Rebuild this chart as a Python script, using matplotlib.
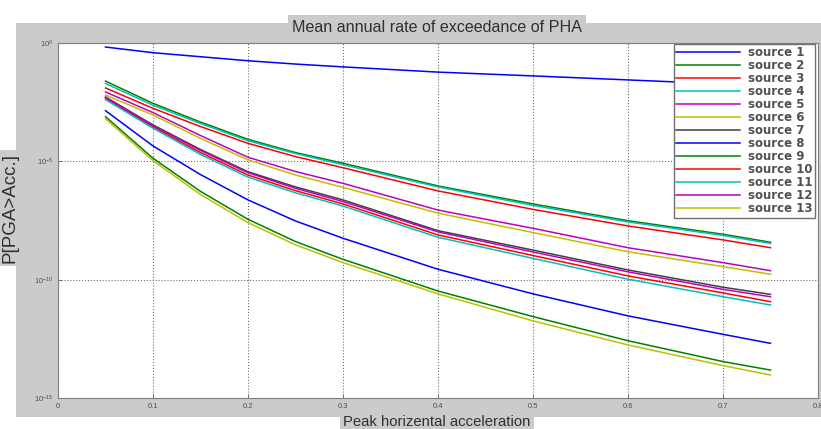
import matplotlib
matplotlib.use("Agg")
import matplotlib.pyplot as plt
from matplotlib.patches import Rectangle
import numpy as np

plt.rcParams['font.family'] = ['Liberation Sans', 'DejaVu Sans']

# x values (PGA, g)
pga = [0.05, 0.1, 0.15, 0.2, 0.25, 0.3, 0.4, 0.5, 0.6, 0.7, 0.75]

# log10 of the exceedance rate
src1 = [-0.17, -0.41, -0.58, -0.75, -0.89, -1.01, -1.23, -1.39, -1.56, -1.73, -1.82]
src2 = [-1.61, -2.55, -3.34, -4.07, -4.63, -5.08, -6.04, -6.80, -7.51, -8.08, -8.42]
src3 = [-1.90, -2.76, -3.53, -4.24, -4.80, -5.27, -6.25, -7.03, -7.73, -8.32, -8.65]
src4 = [-1.71, -2.63, -3.40, -4.13, -4.67, -5.14, -6.08, -6.86, -7.56, -8.13, -8.47]
src5 = [-2.07, -2.94, -3.91, -4.83, -5.43, -5.93, -7.06, -7.83, -8.65, -9.28, -9.62]
src6 = [-2.20, -3.04, -4.03, -4.94, -5.58, -6.10, -7.19, -8.01, -8.82, -9.45, -9.77]
src7 = [-2.28, -3.46, -4.50, -5.44, -6.08, -6.63, -7.93, -8.75, -9.59, -10.32, -10.62]
src8 = [-2.86, -4.35, -5.56, -6.63, -7.52, -8.25, -9.56, -10.60, -11.53, -12.31, -12.69]
src9 = [-3.11, -4.87, -6.27, -7.45, -8.39, -9.14, -10.48, -11.56, -12.58, -13.46, -13.82]
src10 = [-2.34, -3.55, -4.63, -5.58, -6.24, -6.80, -8.11, -8.98, -9.84, -10.56, -10.93]
src11 = [-2.39, -3.60, -4.71, -5.67, -6.33, -6.89, -8.21, -9.10, -9.98, -10.72, -11.07]
src12 = [-2.30, -3.50, -4.54, -5.48, -6.14, -6.70, -7.98, -8.83, -9.67, -10.41, -10.72]
src13 = [-3.20, -4.97, -6.40, -7.59, -8.53, -9.28, -10.60, -11.74, -12.76, -13.63, -14.03]

sources = [src1, src2, src3, src4, src5, src6, src7, src8, src9, src10, src11, src12, src13]
labels = ['source %d' % (i + 1) for i in range(len(sources))]

# old matlab colour order
colors = ['#0000ff', '#008000', '#ff0000', '#00bfbf', '#bf00bf', '#bfbf00', '#404040']

xticks = [0, 0.1, 0.2, 0.3, 0.4, 0.5, 0.6, 0.7, 0.8]
yticks = [1e0, 1e-5, 1e-10, 1e-15]

W, H = 821, 429
gray = '#cbcbcb'

fig = plt.figure(figsize=(W / 100, H / 100), dpi=100, facecolor='white')
fig.patches.append(Rectangle((16 / W, 1 - 417 / H), 1, (417 - 23) / H,
                             transform=fig.transFigure, facecolor=gray,
                             edgecolor='none', zorder=-5))

ax = fig.add_axes([58 / W, 1 - 398 / H, (818 - 58) / W, (398 - 43) / H])
ax.set_zorder(2)
for i, vals in enumerate(sources):
    ax.semilogy(pga, 10.0 ** np.array(vals), color=colors[i % len(colors)],
                lw=1.1, label=labels[i])

ax.set_xlim(0, 0.8)
ax.set_ylim(1e-15, 1e0)
ax.set_xticks(xticks)
ax.set_xticklabels(['0' if t == 0 else '%g' % t for t in xticks])
ax.set_yticks(yticks)
ax.yaxis.set_minor_locator(matplotlib.ticker.NullLocator())
ax.tick_params(direction='in', length=3, width=0.6, labelsize=5.5,
               colors='#606060', labelcolor='#505050')
ax.grid(True, which='major', linestyle=':', color='#707070', lw=0.8)
for s in ax.spines.values():
    s.set_color('#808080')
    s.set_linewidth(0.8)

leg = ax.legend(loc='upper right', bbox_to_anchor=(815 / W, 1 - 44 / H),
                bbox_transform=fig.transFigure, borderaxespad=0,
                prop={'family': 'DejaVu Sans', 'weight': 'bold', 'size': 8.5},
                handlelength=5.4, labelspacing=0.0,
                fancybox=False, framealpha=1, edgecolor='#707070',
                borderpad=0.2, handletextpad=0.7)
for t in leg.get_texts():
    t.set_color('#505050')

fig.text(437 / W, 1 - 27 / H, 'Mean annual rate of exceedance of PHA',
         ha='center', va='center', fontsize=11.6, color='#303030',
         bbox=dict(facecolor=gray, edgecolor='none', pad=3), zorder=3)
fig.text(437 / W, 1 - 422 / H, 'Peak horizental acceleration',
         ha='center', va='center', fontsize=10.7, color='#303030',
         bbox=dict(facecolor=gray, edgecolor='none', pad=2), zorder=3)
fig.text(10 / W, 1 - 208 / H, 'P[PGA>Acc.]', rotation=90,
         ha='center', va='center', fontsize=13.5, color='#303030',
         bbox=dict(facecolor=gray, edgecolor='none', pad=2), zorder=3)

fig.savefig('out.png', dpi=100, facecolor='white')
